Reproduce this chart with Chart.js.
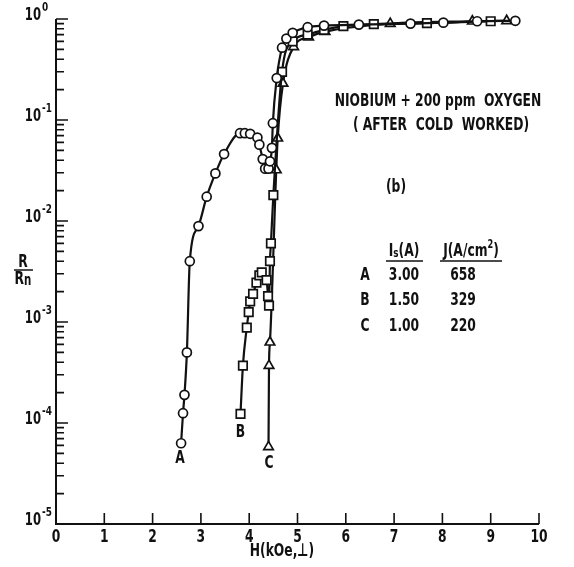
<!DOCTYPE html>
<html>
<head>
<meta charset="utf-8">
<script src="https://cdn.jsdelivr.net/npm/chart.js@4"></script>
<style>
html, body { margin: 0; padding: 0; background: #fff; }
canvas { display: block; }
</style>
</head>
<body>
<canvas id="chart" width="574" height="567"></canvas>
<script>
// curve A (circles), I = 3.00 A
const hA = [2.59, 2.63, 2.66, 2.71, 2.77, 2.95, 3.12, 3.30, 3.48, 3.81, 3.91, 4.02, 4.17, 4.21, 4.28, 4.33, 4.40, 4.43, 4.47, 4.49, 4.57, 4.68, 4.77, 4.90, 5.21, 5.55, 6.27, 7.34, 8.02, 8.72, 9.51];
const rA = [6.3e-5, 1.25e-4, 1.9e-4, 5.0e-4, 4.0e-3, 8.9e-3, 1.74e-2, 2.96e-2, 4.6e-2, 7.4e-2, 7.4e-2, 7.3e-2, 6.7e-2, 5.7e-2, 4.1e-2, 3.3e-2, 3.3e-2, 3.9e-2, 5.3e-2, 9.3e-2, 0.26, 0.52, 0.64, 0.73, 0.83, 0.86, 0.88, 0.90, 0.92, 0.95, 0.96];

// curve B (squares), I = 1.50 A
const hB = [3.82, 3.87, 3.95, 3.99, 4.02, 4.08, 4.15, 4.21, 4.26, 4.36, 4.39, 4.41, 4.43, 4.45, 4.50, 4.68, 4.90, 5.21, 5.55, 5.95, 6.58, 7.68, 9.00];
const rB = [1.23e-4, 3.7e-4, 8.8e-4, 1.25e-3, 1.6e-3, 1.9e-3, 2.45e-3, 2.9e-3, 3.1e-3, 2.6e-3, 1.8e-3, 1.45e-3, 4.0e-3, 6.0e-3, 1.8e-2, 0.30, 0.60, 0.70, 0.78, 0.85, 0.89, 0.91, 0.95];

// curve C (triangles), I = 1.00 A
const hC = [4.40, 4.41, 4.43, 4.56, 4.59, 4.70, 4.92, 5.23, 5.57, 6.92, 8.62, 9.33];
const rC = [5.8e-5, 3.7e-4, 6.3e-4, 3.2e-2, 6.6e-2, 0.23, 0.53, 0.66, 0.75, 0.90, 0.95, 0.96];

const xTicks = [0, 1, 2, 3, 4, 5, 6, 7, 8, 9, 10];
const yDecades = [0, -1, -2, -3, -4, -5];

const curveNames = ['A', 'B', 'C'];
const curveLabelH = [2.57, 3.82, 4.41];
const curveLabelR = [4.5e-5, 8.1e-5, 4.0e-5];

const tableIs = ['3.00', '1.50', '1.00'];
const tableJ = ['658', '329', '220'];

const FONT = '"DejaVu Sans Condensed", "DejaVu Sans", sans-serif';
const SQ = 0.76; // lettering is narrower than the font
const INK = '#111';

function pts(hs, rs) {
  return hs.map((h, i) => ({ x: h, y: rs[i] }));
}

function series(label, hs, rs, style, radius) {
  return {
    label,
    data: pts(hs, rs),
    pointStyle: style,
    pointRadius: radius,
    pointHoverRadius: radius,
    pointBackgroundColor: '#fff',
    pointBorderColor: INK,
    pointBorderWidth: 1.7,
    borderColor: INK,
    borderWidth: 2.2,
    cubicInterpolationMode: 'monotone',
    fill: false,
    clip: false
  };
}

// draw text made of parts: {t, size, dy}, squeezed horizontally
function drawParts(ctx, parts, x, y, align) {
  let w = 0;
  parts.forEach(p => { ctx.font = 'bold ' + p.size + 'px ' + FONT; w += ctx.measureText(p.t).width; });
  const total = w * SQ;
  const x0 = align === 'center' ? x - total / 2 : align === 'right' ? x - total : x;
  ctx.save();
  ctx.translate(x0, 0);
  ctx.scale(SQ, 1);
  let cx = 0;
  parts.forEach(p => {
    ctx.font = 'bold ' + p.size + 'px ' + FONT;
    ctx.fillText(p.t, cx, y + (p.dy || 0));
    cx += ctx.measureText(p.t).width;
  });
  ctx.restore();
  return total;
}

const axesPlugin = {
  id: 'axesPlugin',
  afterDraw(chart) {
    const ctx = chart.ctx;
    const xs = chart.scales.x, ys = chart.scales.y;
    const a = chart.chartArea;
    ctx.save();
    ctx.strokeStyle = INK;
    ctx.fillStyle = INK;
    ctx.lineWidth = 2;

    // axis lines
    ctx.beginPath();
    ctx.moveTo(a.left, a.top);
    ctx.lineTo(a.left, a.bottom);
    ctx.lineTo(a.right, a.bottom);
    ctx.stroke();

    // x ticks, inward
    ctx.lineWidth = 1.6;
    ctx.beginPath();
    xTicks.forEach(v => {
      const px = xs.getPixelForValue(v);
      ctx.moveTo(px, a.bottom);
      ctx.lineTo(px, a.bottom - 11);
    });
    // y ticks, inward
    yDecades.forEach(d => {
      const py = ys.getPixelForValue(Math.pow(10, d));
      ctx.moveTo(a.left, py);
      ctx.lineTo(a.left + 12, py);
    });
    for (let d = -5; d < 0; d++) {
      for (let m = 2; m <= 9; m++) {
        const py = ys.getPixelForValue(m * Math.pow(10, d));
        ctx.moveTo(a.left, py);
        ctx.lineTo(a.left + 8, py);
      }
    }
    ctx.stroke();

    // x labels
    ctx.textBaseline = 'middle';
    ctx.textAlign = 'left';
    xTicks.forEach(v => {
      const px = xs.getPixelForValue(v);
      drawParts(ctx, [{ t: String(v), size: 18 }], px, a.bottom + 13, 'center');
    });
    drawParts(ctx, [{ t: 'H(kOe,\u22a5)', size: 18 }], 282, 551, 'center');

    // y labels
    yDecades.forEach(d => {
      const py = ys.getPixelForValue(Math.pow(10, d));
      drawParts(ctx, [{ t: '10', size: 17 }], 41, py - 3, 'right');
      drawParts(ctx, [{ t: d === 0 ? '0' : '-' + Math.abs(d), size: 13 }], 42, py - 11, 'left');
    });

    // y title R/Rn
    drawParts(ctx, [{ t: 'R', size: 18 }], 23, 262, 'center');
    ctx.lineWidth = 1.5;
    ctx.beginPath();
    ctx.moveTo(14, 270);
    ctx.lineTo(33, 270);
    ctx.stroke();
    drawParts(ctx, [{ t: 'R', size: 18 }, { t: 'n', size: 15, dy: 2 }], 23, 279, 'center');

    // curve labels
    curveNames.forEach((n, i) => {
      drawParts(ctx, [{ t: n, size: 18 }], xs.getPixelForValue(curveLabelH[i]), ys.getPixelForValue(curveLabelR[i]), 'center');
    });

    // annotations
    drawParts(ctx, [{ t: 'NIOBIUM + 200 ppm  OXYGEN', size: 18 }], 438, 101, 'center');
    drawParts(ctx, [{ t: '( AFTER  COLD  WORKED)', size: 18 }], 441, 125, 'center');
    drawParts(ctx, [{ t: '(b)', size: 18 }], 396, 187, 'center');

    // table
    drawParts(ctx, [{ t: 'I', size: 18 }, { t: 's', size: 13, dy: 3 }, { t: '(A)', size: 18 }], 404, 251, 'center');
    drawParts(ctx, [{ t: 'J(A/cm', size: 18 }, { t: '2', size: 12, dy: -6 }, { t: ')', size: 18 }], 471, 251, 'center');
    ctx.lineWidth = 1.5;
    ctx.beginPath();
    ctx.moveTo(386, 261); ctx.lineTo(423, 261);
    ctx.moveTo(440, 261); ctx.lineTo(502, 261);
    ctx.stroke();
    const rowY = [275, 300, 326];
    curveNames.forEach((n, i) => {
      drawParts(ctx, [{ t: n, size: 18 }], 365, rowY[i], 'center');
      drawParts(ctx, [{ t: tableIs[i], size: 18 }], 404, rowY[i], 'center');
      drawParts(ctx, [{ t: tableJ[i], size: 18 }], 463, rowY[i], 'center');
    });
    ctx.restore();
  }
};

new Chart(document.getElementById('chart').getContext('2d'), {
  type: 'line',
  data: {
    datasets: [
      series('A', hA, rA, 'circle', 4.5),
      series('B', hB, rB, 'rect', 6),
      series('C', hC, rC, 'triangle', 5.5)
    ]
  },
  options: {
    responsive: false,
    animation: false,
    events: [],
    layout: { padding: { left: 56, right: 35, top: 19, bottom: 43 } },
    plugins: {
      legend: { display: false },
      tooltip: { enabled: false }
    },
    scales: {
      x: { type: 'linear', min: 0, max: 10, display: false },
      y: { type: 'logarithmic', min: 1e-5, max: 1, display: false }
    }
  },
  plugins: [axesPlugin]
});
</script>
</body>
</html>
